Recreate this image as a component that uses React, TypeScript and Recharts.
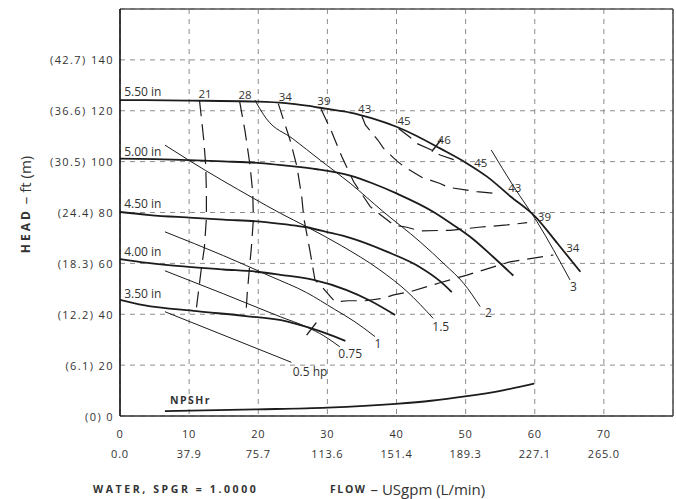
import React from 'react';
import { ComposedChart, Line, Scatter, XAxis, YAxis, CartesianGrid, ReferenceLine } from 'recharts';

// ---- axis ticks ----
const flowTicks = [0, 10, 20, 30, 40, 50, 60, 70];
const flowLpm = ['0.0', '37.9', '75.7', '113.6', '151.4', '189.3', '227.1', '265.0'];
const headTicks = [0, 20, 40, 60, 80, 100, 120, 140];
const headM = ['(0)', '(6.1)', '(12.2)', '(18.3)', '(24.4)', '(30.5)', '(36.6)', '(42.7)'];

// ---- impeller head curves [flow USgpm, head ft] ----
const head550 = [[0,124.2],[10,124.0],[20,123.6],[24,123.0],[27,122.0],[30,120.7],[33.3,119.3],[36.5,117.0],[40,113.7],[43,110.0],[46.3,105.2],[50.2,99.3],[53.1,94.1],[56.5,86.3],[60.1,78.3],[63.3,67.8],[66.6,56.7]];
const head500 = [[0,101.2],[5,101.0],[10,100.6],[15,100.1],[20.3,99.4],[24,98.4],[28.5,97.0],[33.3,94.5],[36.5,91.5],[40,87.5],[45.3,80.3],[48,75.5],[51.1,69.5],[54,62.5],[56.9,55.2]];
const head450 = [[0,80.2],[4.3,79.0],[10,78.0],[15,77.2],[20.3,76.4],[24,75.3],[27,74.2],[30,72.3],[33.3,70.0],[38.6,64.6],[43.4,58.5],[46.3,53.0],[48,48.7]];
const head400 = [[0,61.7],[4,60.2],[8.2,59.0],[15,57.6],[19.8,56.7],[23.2,55.5],[28,53.5],[32.8,49.5],[36.2,45.3],[39.8,39.7]];
const head350 = [[0,45.7],[3.4,43.6],[11.1,41.2],[18.2,39.3],[24.1,37.2],[27,35.0],[30,32.3],[32.6,29.5]];
const npshr = [[6.5,1.9],[19.9,2.6],[30,3.3],[39.9,4.8],[45,6.0],[49.9,7.7],[55.4,10.1],[59.9,12.7]];

// ---- power lines (hp) ----
const hp05 = [[6.5,41.0],[24.8,21.1]];
const hp075 = [[6.5,57.1],[15,48.0],[23.2,39.0],[27,35.0],[29.5,31.5],[31.8,27.2]];
const hp1 = [[6.5,72.4],[15,63.0],[21.7,55.0],[27,48.5],[31,42.0],[34,37.0],[36.9,31.2]];
const hp15 = [[6.5,106.5],[10.1,100.3],[19.3,85.6],[23.2,79.7],[27,74.4],[32,67.0],[37.6,57.4],[41.5,49.0],[45.3,38.4]];
const hp2 = [[19.5,124.2],[21.2,116.8],[25,109.0],[29,100.5],[33.3,91.5],[38,80.5],[43.4,68.5],[47,59.5],[49.7,52.2],[52.1,43.0]];
const hp3 = [[53.7,104.6],[57,90.0],[60.3,76.5],[65.1,53.5]];

// ---- efficiency contours (%) ----
const eff21 = [[11.5,124.1],[12.1,109.0],[12.4,98.7],[12.5,88.0],[12.5,77.7],[12.2,66.0],[11.8,58.7],[11.4,50.0],[11.0,41.2]];
const eff28 = [[17.3,123.8],[18.1,111.8],[18.8,98.7],[19.2,88.0],[19.3,77.5],[19.0,66.0],[18.7,57.4],[18.4,48.0],[18.2,39.3]];
const eff34 = [[22.9,122.8],[24.6,108.5],[25.6,98.0],[26.3,86.0],[26.6,77.7],[27.5,64.6],[28.2,53.5],[29.4,50.2],[31.1,44.9],[33,45.3],[35.5,45.3],[38.1,46.3],[39.6,47.6],[42,48.9],[46.3,52.4],[50.2,55.4],[56.4,60.6],[62.7,63.3]];
const eff39 = [[29.1,120.6],[30.6,111.8],[32.1,101.9],[33.8,92.1],[36.2,82.3],[37.4,79.7],[39.6,75.1],[41.5,74.2],[43.4,72.8],[47.8,73.0],[51.9,74.2],[56,75.1],[58.9,76.0]];
const eff43 = [[35.0,117.8],[35.5,114.4],[37.3,108.5],[38.1,105.3],[40,100.4],[41.2,97.8],[43.7,93.8],[46.3,91.4],[47.5,89.9],[50.2,88.8],[51.6,88.2],[54.5,87.5]];
const eff45 = [[40.3,113.0],[42,109.5],[42.9,107.2],[44.9,104.8],[46.3,102.6],[48.8,100.3]];
const eff46 = [[45.1,104.0],[46.5,108.8]];
const mark350 = [[27.0,31.8],[28.4,36.7]];

// ---- text labels [flow, head, text] ----
const sizeLabels = [[0.6,127.5,'5.50 in'],[0.6,103.9,'5.00 in'],[0.6,83.6,'4.50 in'],[0.6,64.6,'4.00 in'],[0.6,48.0,'3.50 in']];
const effLabels = [[12.3,126.6,'21'],[18.1,126.2,'28'],[23.9,125.5,'34'],[29.5,124.2,'39'],[35.4,121.0,'43'],[41.1,116.1,'45'],[46.9,108.8,'46'],[52.2,99.8,'45'],[57.1,89.9,'43'],[61.4,78.5,'39'],[65.5,66.2,'34']];
const hpLabels = [[65.6,50.8,'3'],[53.3,40.6,'2'],[46.4,35.2,'1.5'],[37.3,28.6,'1'],[33.3,24.6,'0.75'],[27.5,17.4,'0.5 hp']];
const npshLabels = [[10.2,6.1,'NPSHr']];

const pts = (a: number[][]) => a.map(([x, y]) => ({ x, y }));
const lbl = (a: any[][]) => a.map(([x, y, t]) => ({ x, y, t }));

const FONT = "'Open Sans', sans-serif";
const TXT = '#333';
const INK = '#1c1c1c';

const XTick = (props: any) => {
  const { x, y, payload } = props;
  const i = flowTicks.indexOf(payload.value);
  return (
    <g>
      <text x={x} y={y + 17} textAnchor="middle" dominantBaseline="central" fontFamily={FONT} fontSize={11} letterSpacing={0.8} fill={TXT}>{payload.value}</text>
      <text x={x} y={y + 37} textAnchor="middle" dominantBaseline="central" fontFamily={FONT} fontSize={11} letterSpacing={0.8} fill={TXT}>{flowLpm[i]}</text>
    </g>
  );
};

const YTick = (props: any) => {
  const { x, y, payload } = props;
  const i = headTicks.indexOf(payload.value);
  return (
    <text x={x - 6} y={y} textAnchor="end" dominantBaseline="central" fontFamily={FONT} fontSize={11} letterSpacing={1.4} fill={TXT}>
      {headM[i] + ' ' + payload.value}
    </text>
  );
};

const makeText = (anchor: string, size: number, bold = false, spacing = 0) => (props: any) => (
  <text x={props.cx} y={props.cy} textAnchor={anchor} dominantBaseline="central" fontFamily={FONT} fontSize={size}
    fontWeight={bold ? 700 : 400} letterSpacing={spacing} fill={TXT}>{props.payload.t}</text>
);

const YTitle = (props: any) => {
  const vb = props.viewBox || { x: 0, y: 9, width: 120, height: 407 };
  const cx = vb.x + 25;
  const cy = vb.y + vb.height / 2 - 8;
  return (
    <text x={cx} y={cy} transform={`rotate(-90 ${cx} ${cy})`} textAnchor="middle" dominantBaseline="central" fontFamily={FONT} fill={TXT}>
      <tspan fontSize={12} fontWeight={700} letterSpacing={3}>HEAD</tspan>
      <tspan fontSize={15}> – ft (m)</tspan>
    </text>
  );
};

const XTitle = (props: any) => {
  const vb = props.viewBox || { x: 120, y: 416, width: 553, height: 83 };
  const y = vb.y + 73;
  return (
    <g>
      <text x={vb.x - 27} y={y} dominantBaseline="central" fontFamily={FONT} fontSize={10.5} fontWeight={700} letterSpacing={2.6} fill={TXT}>WATER, SPGR = 1.0000</text>
      <text x={vb.x + 210} y={y} dominantBaseline="central" fontFamily={FONT} fill={TXT}>
        <tspan fontSize={10.5} fontWeight={700} letterSpacing={1.6}>FLOW</tspan>
        <tspan fontSize={15}> – USgpm (L/min)</tspan>
      </text>
    </g>
  );
};

const headCurves = [head550, head500, head450, head400, head350];
const hpLines = [hp05, hp075, hp1, hp15, hp2, hp3];
const effLines = [eff21, eff28, eff34, eff39, eff43, eff45];

export default function App() {
  return (
    <div style={{ width: 676, height: 499, background: '#fff' }}>
      <style>{'body{margin:0;overflow:hidden;}'}</style>
      <ComposedChart width={676} height={499} margin={{ top: 9, right: 3, left: 0, bottom: 0 }}>
        <CartesianGrid stroke="#8c8c8c" strokeDasharray="5 5" strokeWidth={1} />
        <XAxis dataKey="x" type="number" domain={[0, 80]} ticks={flowTicks} height={83} tickSize={0} tickMargin={0}
          tickLine={false} axisLine={{ stroke: '#333', strokeWidth: 1.6 }} tick={<XTick />} label={{ content: <XTitle /> }}
          allowDataOverflow interval={0} />
        <YAxis type="number" domain={[0, 160]} ticks={headTicks} width={120} tickSize={0} tickMargin={0}
          tickLine={false} axisLine={{ stroke: '#111', strokeWidth: 1.6 }} tick={<YTick />} label={{ content: <YTitle /> }}
          allowDataOverflow interval={0} />
        <ReferenceLine y={160} stroke="#555" strokeWidth={1.6} />
        <ReferenceLine x={80} stroke="#555" strokeWidth={1.6} />

        {effLines.map((d, i) => (
          <Line key={'e' + i} data={pts(d)} dataKey="y" type="linear" stroke={INK} strokeWidth={1.2}
            strokeDasharray="16 8" dot={false} activeDot={false} isAnimationActive={false} />
        ))}
        <Line data={pts(eff46)} dataKey="y" type="linear" stroke={INK} strokeWidth={1.4} dot={false} activeDot={false} isAnimationActive={false} />
        <Line data={pts(mark350)} dataKey="y" type="linear" stroke={INK} strokeWidth={1.4} dot={false} activeDot={false} isAnimationActive={false} />
        {hpLines.map((d, i) => (
          <Line key={'h' + i} data={pts(d)} dataKey="y" type="monotone" stroke={INK} strokeWidth={1} dot={false}
            activeDot={false} isAnimationActive={false} />
        ))}
        {headCurves.map((d, i) => (
          <Line key={'c' + i} data={pts(d)} dataKey="y" type="monotone" stroke={INK} strokeWidth={1.8} dot={false}
            activeDot={false} isAnimationActive={false} />
        ))}
        <Line data={pts(npshr)} dataKey="y" type="monotone" stroke={INK} strokeWidth={1.8} dot={false} activeDot={false} isAnimationActive={false} />

        <Scatter data={lbl(sizeLabels)} dataKey="y" shape={makeText('start', 12)} isAnimationActive={false} />
        <Scatter data={lbl(effLabels)} dataKey="y" shape={makeText('middle', 11.5)} isAnimationActive={false} />
        <Scatter data={lbl(hpLabels)} dataKey="y" shape={makeText('middle', 12)} isAnimationActive={false} />
        <Scatter data={lbl(npshLabels)} dataKey="y" shape={makeText('middle', 10.5, true, 1.5)} isAnimationActive={false} />
      </ComposedChart>
    </div>
  );
}
